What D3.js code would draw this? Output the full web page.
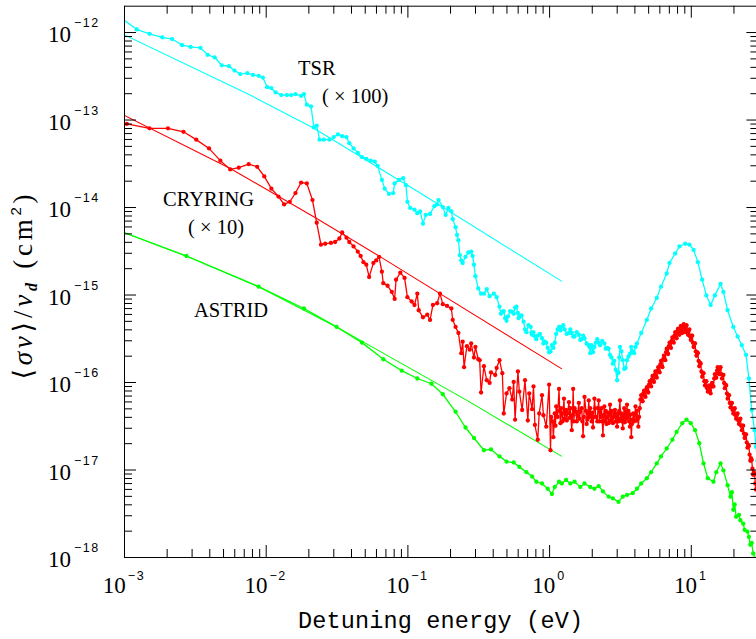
<!DOCTYPE html>
<html>
<head>
<meta charset="utf-8">
<script src="https://cdn.jsdelivr.net/npm/d3@7"></script>
<style>
html, body { margin: 0; padding: 0; background: #fff; }
svg { display: block; }
</style>
</head>
<body>
<svg id="chart" width="756" height="639"></svg>
<script>
// values, stored as [log10 E (eV), log10 <sigma v>/v_d (cm^2)]
var tsrData = [[-3.02,-11.84],[-2.91,-11.97],[-2.82,-12.02],[-2.73,-12.06],[-2.66,-12.08],[-2.59,-12.15],[-2.53,-12.17],[-2.46,-12.18],[-2.41,-12.26],[-2.36,-12.29],[-2.31,-12.38],[-2.26,-12.39],[-2.22,-12.44],[-2.18,-12.48],[-2.13,-12.47],[-2.09,-12.49],[-2.05,-12.50],[-2.02,-12.52],[-1.99,-12.63],[-1.96,-12.64],[-1.93,-12.69],[-1.89,-12.72],[-1.85,-12.72],[-1.82,-12.72],[-1.79,-12.71],[-1.75,-12.73],[-1.73,-12.71],[-1.71,-12.83],[-1.68,-12.85],[-1.66,-13.09],[-1.64,-13.07],[-1.62,-13.23],[-1.59,-13.23],[-1.55,-13.23],[-1.52,-13.20],[-1.49,-13.17],[-1.46,-13.19],[-1.43,-13.20],[-1.41,-13.27],[-1.38,-13.33],[-1.35,-13.38],[-1.32,-13.43],[-1.29,-13.45],[-1.26,-13.47],[-1.23,-13.48],[-1.21,-13.53],[-1.18,-13.69],[-1.16,-13.79],[-1.13,-13.85],[-1.10,-13.84],[-1.09,-13.73],[-1.06,-13.69],[-1.03,-13.67],[-1.01,-13.75],[-1.00,-13.94],[-0.98,-14.01],[-0.95,-14.03],[-0.93,-14.07],[-0.91,-14.05],[-0.89,-14.19],[-0.87,-14.09],[-0.84,-14.08],[-0.81,-13.99],[-0.79,-13.97],[-0.78,-13.92],[-0.75,-14.00],[-0.73,-14.09],[-0.71,-14.01],[-0.69,-14.05],[-0.68,-14.14],[-0.66,-14.23],[-0.65,-14.32],[-0.64,-14.38],[-0.63,-14.55],[-0.62,-14.61],[-0.61,-14.64],[-0.59,-14.57],[-0.57,-14.52],[-0.55,-14.51],[-0.54,-14.56],[-0.53,-14.66],[-0.52,-14.79],[-0.50,-14.93],[-0.48,-14.99],[-0.46,-14.99],[-0.44,-14.94],[-0.42,-15.02],[-0.39,-14.99],[-0.37,-15.03],[-0.35,-15.14],[-0.34,-15.22],[-0.33,-15.20],[-0.32,-15.19],[-0.31,-15.27],[-0.30,-15.30],[-0.29,-15.25],[-0.275,-15.19],[-0.26,-15.20],[-0.25,-15.22],[-0.24,-15.15],[-0.23,-15.14],[-0.22,-15.21],[-0.215,-15.27],[-0.21,-15.25],[-0.195,-15.24],[-0.18,-15.31],[-0.17,-15.40],[-0.16,-15.43],[-0.145,-15.35],[-0.13,-15.37],[-0.125,-15.44],[-0.12,-15.46],[-0.11,-15.43],[-0.10,-15.48],[-0.09,-15.51],[-0.08,-15.47],[-0.065,-15.45],[-0.05,-15.50],[-0.04,-15.56],[-0.03,-15.54],[-0.02,-15.55],[-0.01,-15.61],[0.00,-15.66],[0.01,-15.65],[0.02,-15.58],[0.03,-15.61],[0.04,-15.55],[0.05,-15.45],[0.06,-15.40],[0.07,-15.37],[0.08,-15.41],[0.09,-15.37],[0.10,-15.35],[0.11,-15.40],[0.125,-15.45],[0.14,-15.44],[0.15,-15.40],[0.16,-15.44],[0.17,-15.48],[0.18,-15.48],[0.195,-15.43],[0.21,-15.46],[0.22,-15.52],[0.23,-15.51],[0.24,-15.47],[0.25,-15.50],[0.265,-15.56],[0.28,-15.58],[0.285,-15.60],[0.29,-15.67],[0.30,-15.58],[0.31,-15.66],[0.32,-15.60],[0.33,-15.55],[0.34,-15.51],[0.35,-15.55],[0.36,-15.58],[0.375,-15.53],[0.39,-15.56],[0.40,-15.62],[0.41,-15.61],[0.42,-15.62],[0.43,-15.69],[0.44,-15.72],[0.45,-15.79],[0.46,-15.76],[0.47,-15.86],[0.48,-15.98],[0.485,-15.90],[0.49,-15.89],[0.495,-15.72],[0.50,-15.60],[0.51,-15.65],[0.52,-15.75],[0.53,-15.85],[0.54,-15.84],[0.55,-15.75],[0.56,-15.71],[0.57,-15.68],[0.58,-15.60],[0.59,-15.65],[0.60,-15.67],[0.61,-15.60],[0.62,-15.56],[0.65,-15.44],[0.69,-15.29],[0.72,-15.16],[0.76,-15.04],[0.79,-14.91],[0.83,-14.76],[0.85,-14.64],[0.89,-14.53],[0.92,-14.45],[0.96,-14.42],[0.99,-14.43],[1.02,-14.49],[1.05,-14.63],[1.08,-14.83],[1.11,-15.01],[1.14,-15.12],[1.17,-15.01],[1.21,-14.88],[1.23,-14.97],[1.26,-15.18],[1.30,-15.37],[1.33,-15.48],[1.36,-15.58],[1.39,-15.69],[1.41,-15.96],[1.43,-16.32],[1.45,-16.55],[1.46,-16.74],[1.47,-16.90]];
var tsrFit = [[-3.00,-12.03],[-2.11,-12.72],[-1.66,-13.10],[-0.91,-13.84],[0.09,-14.85]];

var cryData = [[-3.02,-13.04],[-2.98,-13.05],[-2.82,-13.10],[-2.69,-13.10],[-2.58,-13.14],[-2.49,-13.23],[-2.40,-13.33],[-2.32,-13.47],[-2.25,-13.57],[-2.19,-13.55],[-2.12,-13.51],[-2.06,-13.54],[-2.01,-13.65],[-1.96,-13.79],[-1.91,-13.88],[-1.87,-13.97],[-1.83,-13.94],[-1.79,-13.84],[-1.75,-13.72],[-1.71,-13.73],[-1.67,-13.92],[-1.64,-14.18],[-1.61,-14.43],[-1.58,-14.42],[-1.54,-14.41],[-1.51,-14.40],[-1.48,-14.36],[-1.46,-14.29],[-1.43,-14.35],[-1.41,-14.40],[-1.38,-14.45],[-1.35,-14.51],[-1.33,-14.56],[-1.31,-14.63],[-1.29,-14.66],[-1.27,-14.80],[-1.24,-14.64],[-1.22,-14.61],[-1.20,-14.57],[-1.18,-14.74],[-1.17,-14.87],[-1.14,-14.90],[-1.11,-14.97],[-1.09,-15.05],[-1.08,-14.83],[-1.05,-14.75],[-1.02,-14.81],[-1.00,-15.03],[-0.97,-15.08],[-0.95,-15.12],[-0.93,-14.99],[-0.92,-15.18],[-0.89,-15.26],[-0.86,-15.23],[-0.84,-15.29],[-0.82,-15.12],[-0.79,-15.10],[-0.77,-14.99],[-0.75,-15.11],[-0.72,-15.13],[-0.69,-15.16],[-0.68,-15.29],[-0.66,-15.37],[-0.64,-15.44],[-0.62,-15.67],[-0.61,-15.54],[-0.60,-15.83],[-0.58,-15.59],[-0.56,-15.63],[-0.55,-15.56],[-0.53,-15.72],[-0.52,-15.60],[-0.50,-15.74],[-0.49,-15.75],[-0.48,-16.12],[-0.46,-15.82],[-0.44,-15.98],[-0.42,-16.01],[-0.41,-15.89],[-0.38,-15.92],[-0.37,-15.84],[-0.35,-15.75],[-0.33,-15.90],[-0.32,-16.36],[-0.30,-16.13],[-0.28,-16.07],[-0.26,-16.20],[-0.25,-16.00],[-0.24,-16.43],[-0.22,-15.88],[-0.21,-16.11],[-0.19,-16.32],[-0.17,-15.98],[-0.15,-16.44],[-0.14,-16.13],[-0.12,-16.31],[-0.11,-16.05],[-0.10,-16.49],[-0.08,-16.66],[-0.07,-16.36],[-0.05,-16.15],[-0.04,-16.38],[-0.02,-16.51],
[0.00,-16.03],[0.01,-16.78],[0.015,-16.40],[0.025,-16.45],[0.03,-16.63],[0.04,-16.36],[0.045,-16.50],[0.05,-16.28],[0.06,-16.40],[0.07,-16.08],[0.075,-16.33],[0.08,-16.47],[0.085,-16.30],[0.09,-16.36],[0.095,-16.45],[0.105,-16.19],[0.11,-16.42],[0.12,-16.32],[0.125,-16.44],[0.13,-16.36],[0.14,-16.23],[0.145,-16.41],[0.15,-16.30],[0.16,-16.55],[0.165,-16.38],[0.17,-16.08],[0.175,-16.45],[0.18,-16.30],[0.19,-16.34],[0.195,-16.45],[0.20,-16.38],[0.21,-16.24],[0.215,-16.42],[0.22,-16.34],[0.23,-16.30],[0.235,-16.45],[0.24,-16.62],[0.245,-16.40],[0.25,-16.17],[0.26,-16.33],[0.265,-16.48],[0.27,-16.43],[0.275,-16.36],[0.28,-16.21],[0.285,-16.40],[0.29,-16.30],[0.30,-16.45],[0.305,-16.35],[0.31,-16.52],[0.315,-16.40],[0.32,-16.19],[0.325,-16.30],[0.33,-16.40],[0.34,-16.45],[0.345,-16.30],[0.35,-16.21],[0.355,-16.45],[0.36,-16.32],[0.365,-16.40],[0.37,-16.30],[0.375,-16.45],[0.38,-16.61],[0.385,-16.38],[0.39,-16.28],[0.395,-16.45],[0.40,-16.33],[0.405,-16.48],[0.41,-16.40],[0.415,-16.35],[0.42,-16.47],[0.425,-16.37],[0.43,-16.26],[0.435,-16.44],[0.44,-16.33],[0.45,-16.47],[0.455,-16.40],[0.46,-16.36],[0.465,-16.32],[0.47,-16.45],[0.475,-16.40],[0.48,-16.51],[0.485,-16.36],[0.49,-16.45],[0.495,-16.33],[0.50,-16.21],[0.505,-16.42],[0.51,-16.36],[0.515,-16.45],[0.52,-16.53],[0.525,-16.40],[0.53,-16.30],[0.535,-16.46],[0.54,-16.34],[0.545,-16.42],[0.55,-16.26],[0.555,-16.40],[0.56,-16.33],[0.565,-16.45],[0.57,-16.51],[0.575,-16.37],[0.58,-16.63],[0.585,-16.48],[0.59,-16.43],[0.595,-16.36],[0.60,-16.45],[0.605,-16.38],[0.61,-16.28],[0.615,-16.44],[0.62,-16.33],[0.625,-16.42],[0.63,-16.51],[0.635,-16.40],
[0.640,-16.30],[0.645,-16.20],[0.650,-16.15],[0.655,-16.21],[0.660,-16.22],[0.665,-16.13],[0.670,-16.10],[0.675,-16.15],[0.680,-16.17],[0.685,-16.09],[0.690,-16.06],[0.695,-16.11],[0.700,-16.12],[0.705,-16.03],[0.710,-15.99],[0.715,-16.04],[0.720,-16.05],[0.725,-15.97],[0.730,-15.93],[0.735,-15.98],[0.740,-16.00],[0.745,-15.92],[0.750,-15.88],[0.755,-15.93],[0.760,-15.95],[0.765,-15.87],[0.770,-15.83],[0.775,-15.88],[0.780,-15.89],[0.785,-15.80],[0.790,-15.76],[0.795,-15.81],[0.800,-15.83],[0.805,-15.74],[0.810,-15.70],[0.815,-15.74],[0.820,-15.75],[0.825,-15.66],[0.830,-15.62],[0.835,-15.67],[0.840,-15.68],[0.845,-15.59],[0.850,-15.55],[0.855,-15.60],[0.860,-15.61],[0.865,-15.53],[0.870,-15.49],[0.875,-15.54],[0.880,-15.55],[0.885,-15.47],[0.890,-15.43],[0.895,-15.48],[0.900,-15.50],[0.905,-15.42],[0.910,-15.39],[0.915,-15.44],[0.920,-15.46],[0.925,-15.39],[0.930,-15.36],[0.935,-15.42],[0.940,-15.44],[0.945,-15.37],[0.950,-15.34],[0.955,-15.40],[0.960,-15.43],[0.965,-15.37],[0.970,-15.35],[0.975,-15.42],[0.980,-15.46],[0.985,-15.41],[0.990,-15.40],[0.995,-15.48],[1.000,-15.52],[1.005,-15.47],[1.010,-15.47],[1.015,-15.55],[1.020,-15.60],[1.025,-15.56],[1.030,-15.56],[1.035,-15.65],[1.040,-15.70],[1.045,-15.66],[1.050,-15.67],[1.055,-15.76],[1.060,-15.82],[1.065,-15.78],[1.070,-15.79],[1.075,-15.88],[1.080,-15.94],[1.085,-15.90],[1.090,-15.90],[1.095,-15.99],[1.100,-16.04],[1.105,-15.99],[1.110,-15.99],[1.115,-16.07],[1.120,-16.11],[1.125,-16.05],[1.130,-16.04],[1.135,-16.10],[1.140,-16.13],[1.145,-16.05],[1.150,-16.01],[1.155,-16.05],[1.160,-16.05],[1.165,-15.96],[1.170,-15.91],[1.175,-15.95],[1.180,-15.95],[1.185,-15.87],[1.190,-15.83],[1.195,-15.89],[1.200,-15.91],[1.205,-15.85],[1.210,-15.83],[1.215,-15.91],[1.220,-15.96],[1.225,-15.92],[1.230,-15.92],[1.235,-16.01],[1.240,-16.07],[1.245,-16.03],[1.250,-16.04],[1.255,-16.13],[1.260,-16.19],[1.265,-16.15],[1.270,-16.15],[1.275,-16.24],[1.280,-16.29],[1.285,-16.24],[1.290,-16.24],[1.295,-16.32],[1.300,-16.36],[1.305,-16.31],[1.310,-16.30],[1.315,-16.38],[1.320,-16.42],[1.325,-16.37],[1.330,-16.36],[1.335,-16.44],[1.340,-16.48],[1.345,-16.43],[1.350,-16.42],[1.355,-16.50],[1.360,-16.55],[1.365,-16.50],[1.370,-16.50],[1.375,-16.59],[1.380,-16.64],[1.385,-16.60],[1.390,-16.60],[1.395,-16.69],[1.400,-16.75],[1.405,-16.72],[1.410,-16.73],[1.415,-16.83],[1.420,-16.90],[1.425,-16.87],[1.430,-16.89],[1.435,-16.99],[1.440,-17.06],[1.445,-17.03],[1.450,-17.05],[1.455,-17.16],[1.460,-17.23],[1.465,-17.21],[1.470,-17.23]];
var cryFit = [[-3.00,-12.95],[-2.25,-13.56],[-1.64,-14.13],[-1.19,-14.57],[0.09,-15.85]];

var astData = [[-3.02,-14.28],[-2.56,-14.56],[-2.05,-14.91],[-1.73,-15.16],[-1.50,-15.37],[-1.32,-15.55],[-1.17,-15.74],[-1.04,-15.87],[-0.93,-15.96],[-0.83,-16.02],[-0.75,-16.14],[-0.66,-16.34],[-0.59,-16.52],[-0.53,-16.64],[-0.46,-16.78],[-0.41,-16.77],[-0.35,-16.85],[-0.30,-16.91],[-0.25,-16.92],[-0.21,-16.97],[-0.16,-17.03],[-0.12,-17.08],[-0.09,-17.14],[-0.05,-17.16],[-0.01,-17.22],[0.02,-17.28],[0.04,-17.20],[0.07,-17.14],[0.09,-17.16],[0.12,-17.12],[0.15,-17.16],[0.18,-17.14],[0.22,-17.20],[0.25,-17.16],[0.29,-17.20],[0.32,-17.22],[0.35,-17.19],[0.38,-17.25],[0.42,-17.31],[0.45,-17.33],[0.49,-17.37],[0.52,-17.31],[0.55,-17.29],[0.59,-17.27],[0.62,-17.22],[0.65,-17.16],[0.69,-17.10],[0.72,-17.03],[0.76,-16.93],[0.79,-16.85],[0.83,-16.76],[0.87,-16.66],[0.90,-16.57],[0.94,-16.47],[0.97,-16.43],[1.00,-16.47],[1.03,-16.55],[1.06,-16.70],[1.09,-16.93],[1.12,-17.10],[1.16,-17.14],[1.18,-17.03],[1.21,-16.93],[1.23,-17.01],[1.26,-17.18],[1.28,-17.31],[1.29,-17.26],[1.30,-17.46],[1.31,-17.40],[1.32,-17.54],[1.34,-17.52],[1.35,-17.58],[1.37,-17.62],[1.38,-17.69],[1.40,-17.71],[1.41,-17.77],[1.42,-17.86],[1.43,-17.84],[1.44,-17.96],[1.46,-18.03],[1.47,-18.10]];
var astFit = [[-3.00,-14.29],[-2.56,-14.56],[-2.05,-14.91],[-1.50,-15.37],[-0.58,-16.21],[0.09,-16.85]];

var xMajor = [1e-3, 1e-2, 1e-1, 1, 10];
var xMajorExp = ["\u22123", "\u22122", "\u22121", "0", "1"];
var yMajor = [1e-18, 1e-17, 1e-16, 1e-15, 1e-14, 1e-13, 1e-12];
var yMajorExp = ["\u221218", "\u221217", "\u221216", "\u221215", "\u221214", "\u221213", "\u221212"];

var notes = [
    {text: "TSR", x: 298, y: 75},
    {text: "( \u00d7 100)", x: 322, y: 103},
    {text: "CRYRING", x: 163, y: 206},
    {text: "( \u00d7 10)", x: 188, y: 234},
    {text: "ASTRID", x: 194, y: 317}
];

var colors = {tsr: "#00ffff", cry: "#ff0000", ast: "#00ff00"};

var m = {left: 124, right: 758.4, top: 5.7, bottom: 557};
var svg = d3.select('#chart');

var x = d3.scaleLog().domain([1e-3, 30]).range([m.left, m.right]);
var y = d3.scaleLog().domain([1e-18, 2e-12]).range([m.bottom, m.top]);

svg.append('defs').append('clipPath').attr('id', 'plotclip')
    .append('rect')
    .attr('x', m.left).attr('y', m.top)
    .attr('width', m.right - m.left).attr('height', m.bottom - m.top);

// series
var plot = svg.append('g').attr('clip-path', 'url(#plotclip)');
var line = d3.line()
    .x(function(d){ return x(Math.pow(10, d[0])); })
    .y(function(d){ return y(Math.pow(10, d[1])); });

function drawFit(data, col){
    plot.append('path').datum(data)
        .attr('d', line)
        .attr('fill', 'none')
        .attr('stroke', col)
        .attr('stroke-width', 1.1);
}
function drawData(data, col){
    plot.append('path').datum(data)
        .attr('d', line)
        .attr('fill', 'none')
        .attr('stroke', col)
        .attr('stroke-width', 1.3);
    plot.append('g').selectAll('circle')
        .data(data)
        .enter()
        .append('circle')
        .attr('cx', function(d){ return x(Math.pow(10, d[0])); })
        .attr('cy', function(d){ return y(Math.pow(10, d[1])); })
        .attr('r', 2.15)
        .attr('fill', col);
}
drawFit(tsrFit, colors.tsr);
drawFit(cryFit, colors.cry);
drawFit(astFit, colors.ast);
drawData(tsrData, colors.tsr);
drawData(cryData, colors.cry);
drawData(astData, colors.ast);

// axes, ticks inside on all four sides
var xMinor = x.ticks().filter(function(d){
    return !xMajor.some(function(v){ return Math.abs(d / v - 1) < 1e-6; }) && d < 29.9;
});
var yMinor = y.ticks().filter(function(d){
    return !yMajor.some(function(v){ return Math.abs(d / v - 1) < 1e-6; }) && d < 1.99e-12;
});

function axisPair(maker, pos, major, minor){
    var g = svg.append('g').attr('transform', pos);
    g.call(maker.tickValues(major).tickSize(-12).tickSizeOuter(0).tickFormat(''));
    var g2 = svg.append('g').attr('transform', pos);
    g2.call(maker.tickValues(minor).tickSize(-8).tickSizeOuter(0).tickFormat(''));
    g2.select('.domain').remove();
}
axisPair(d3.axisBottom(x), 'translate(0,' + m.bottom + ')', xMajor, xMinor);
axisPair(d3.axisTop(x), 'translate(0,' + m.top + ')', xMajor, xMinor);
axisPair(d3.axisLeft(y), 'translate(' + m.left + ',0)', yMajor, yMinor);
axisPair(d3.axisRight(y), 'translate(' + m.right + ',0)', yMajor, yMinor);

// tick labels
svg.append('g').selectAll('text')
    .data(xMajor)
    .enter()
    .append('text')
    .attr('x', function(d){ return x(d); })
    .attr('y', 593)
    .attr('text-anchor', 'middle')
    .attr('font-family', 'Liberation Serif, serif')
    .attr('font-size', 23)
    .each(function(d, i){
        var t = d3.select(this);
        t.append('tspan').text('10');
        t.append('tspan')
            .attr('dx', 2).attr('dy', -13)
            .attr('font-family', 'Liberation Sans, sans-serif')
            .attr('font-size', 12.5)
            .attr('letter-spacing', 1.5)
            .text(xMajorExp[i]);
    });

svg.append('g').selectAll('text')
    .data(yMajor)
    .enter()
    .append('text')
    .attr('x', 48)
    .attr('y', function(d){ return y(d) + 10; })
    .attr('font-family', 'Liberation Serif, serif')
    .attr('font-size', 23)
    .each(function(d, i){
        var t = d3.select(this);
        t.append('tspan').text('10');
        t.append('tspan')
            .attr('dx', 3).attr('dy', -15)
            .attr('font-family', 'Liberation Sans, sans-serif')
            .attr('font-size', 12.5)
            .attr('letter-spacing', 1.5)
            .text(yMajorExp[i]);
    });

// axis titles
svg.append('text')
    .attr('x', 440.5).attr('y', 628)
    .attr('text-anchor', 'middle')
    .attr('font-family', 'Liberation Mono, monospace')
    .attr('font-size', 23.5)
    .attr('textLength', 285)
    .attr('lengthAdjust', 'spacing')
    .text('Detuning energy (eV)');

var yt = svg.append('text')
    .attr('transform', 'translate(32,287) rotate(-90)')
    .attr('text-anchor', 'middle')
    .attr('font-family', 'Liberation Serif, DejaVu Serif, serif')
    .attr('font-size', 27)
    .attr('textLength', 185)
    .attr('lengthAdjust', 'spacing');
yt.append('tspan').text('\u27e8');
yt.append('tspan').attr('font-style', 'italic').text('\u03c3v');
yt.append('tspan').text('\u27e9/');
yt.append('tspan').attr('font-style', 'italic').text('v');
yt.append('tspan').attr('font-style', 'italic').attr('font-weight', 'bold')
    .attr('font-size', 16).attr('dy', 5).text('d');
yt.append('tspan').attr('dy', -5).text(' (cm');
yt.append('tspan').attr('font-family', 'Liberation Sans, sans-serif')
    .attr('font-size', 15).attr('dy', -11).text('2');
yt.append('tspan').attr('dy', 11).text(')');

// curve annotations
svg.append('g').selectAll('text')
    .data(notes)
    .enter()
    .append('text')
    .attr('x', function(d){ return d.x; })
    .attr('y', function(d){ return d.y; })
    .attr('font-family', 'Liberation Serif, serif')
    .attr('font-size', 20.5)
    .text(function(d){ return d.text; });
</script>
</body>
</html>
